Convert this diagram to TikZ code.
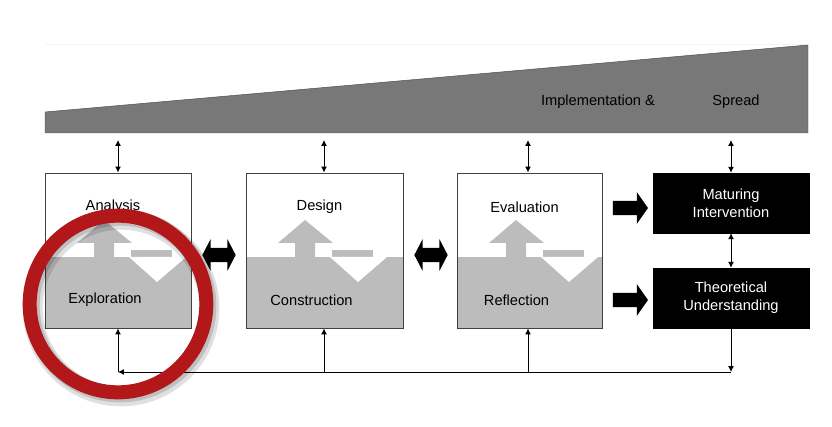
\documentclass[tikz,border=0pt]{standalone}
\usepackage{fontspec}
\setmainfont{Liberation Sans}
\usetikzlibrary{shapes.arrows,arrows.meta}
\definecolor{wedge}{RGB}{120,120,120}
\definecolor{lowgray}{RGB}{188,188,188}
\definecolor{ring}{RGB}{178,24,26}
\tikzset{
  phase/.style={draw=black!75, thick, minimum height=4.65cm, inner sep=0pt},
  result/.style={fill=black, draw=black, text=white, minimum width=4.68cm, minimum height=1.8cm, align=center, inner sep=0pt},
  lbl/.style={font=\fontsize{12.5}{15}\selectfont},
  tip/.style={-{Latex[length=5pt,width=5pt]}, thick},
  both/.style={{Latex[length=5pt,width=5pt]}-{Latex[length=5pt,width=5pt]}, thick},
  fatboth/.style={double arrow, fill=black, minimum height=1cm, minimum width=0.95cm, double arrow tip angle=125, double arrow head extend=0.16cm, inner sep=0.12cm},
  fat/.style={single arrow, fill=black, minimum height=1.05cm, minimum width=0.95cm, single arrow tip angle=110, single arrow head extend=0.16cm, inner sep=0.12cm}
}
% one phase box split into a white top and a gray bottom
\newcommand{\phasebox}[5]{% name, center x, width, top text, bottom text
  \node[phase, minimum width=#3*0.03cm] (#1) at (#2,250.5) {};
  \fill[lowgray] (#2-#3/2,250) rectangle (#2+#3/2,328);
  \begin{scope}[shift={(#2-#3/2,0)}]
    \fill[white] (0,250) rectangle (49,257);
    \fill[white] (69,250) rectangle (86,257);
    \fill[white] (127,250) rectangle (#3,257);
    \fill[lowgray] (32,243) -- (59,220) -- (87,243) -- (69,243) -- (69,257) -- (49,257) -- (49,243) -- cycle;
    \fill[white] (84,257) -- (141,257) -- (112,282) -- cycle;
  \end{scope}
  \node[phase, minimum width=#3*0.03cm] at (#1) {};
  \node[lbl] (#1top) at (#2-5,207) {#4};
  \node[lbl] (#1bot) at (#2-13,300) {#5};
}
\begin{document}
\begin{tikzpicture}[x=0.03cm, y=-0.03cm]
  \useasboundingbox (0,0) rectangle (832,427);
  \fill[white!96!black] (45,44) rectangle (808,45);
  \filldraw[fill=wedge, draw=black!70] (45,112) -- (808,45) -- (808,133) -- (45,133) -- cycle;
  \node[lbl] (impl) at (598,102) {Implementation \&};
  \node[lbl] (spread) at (736,102) {Spread};
  \coordinate (w1) at (118,140);
  \coordinate (w2) at (324,140);
  \coordinate (w3) at (528,140);
  \coordinate (w4) at (731,140);

  \phasebox{anal}{118}{146}{Analysis}{Exploration}
  \phasebox{desg}{324.5}{157}{Design}{Construction}
  \phasebox{eval}{529.5}{145}{Evaluation}{Reflection}
  \node[result, lbl] (matur) at (731,203) {Maturing\\Intervention};
  \node[result, lbl] (theor) at (731,298) {Theoretical\\Understanding};

  \draw[both] (w1) -- (w1 |- anal.north);
  \draw[both] (w2) -- (w2 |- desg.north);
  \draw[both] (w3) -- (w3 |- eval.north);
  \draw[both] (w4) -- (matur.north);
  \draw[both] (matur.south) -- (theor.north);

  \node[fatboth] (dd1) at (219,255) {};
  \node[fatboth] (dd2) at (431,255) {};
  \node[fat] (ff1) at (628,208) {};
  \node[fat] (ff2) at (628,300) {};

  \coordinate (back) at (731,372);
  \coordinate (c1) at (118,372);
  \coordinate (c2) at (324,372);
  \coordinate (c3) at (528,372);
  \draw[tip] (theor.south) -- (back);
  \draw[tip] (back) -- (c1);
  \draw[tip] (c1) -- (c1 |- anal.south);
  \draw[tip] (c2) -- (c2 |- desg.south);
  \draw[tip] (c3) -- (c3 |- eval.south);

  % red ring with a soft shadow
  \draw[black, opacity=0.12, line width=0.6cm] (121,308) circle (2.65cm);
  \draw[black, opacity=0.15, line width=0.48cm] (120,306) circle (2.65cm);
  \draw[ring, line width=0.42cm] (118,304) circle (2.65cm);
\end{tikzpicture}
\end{document}
